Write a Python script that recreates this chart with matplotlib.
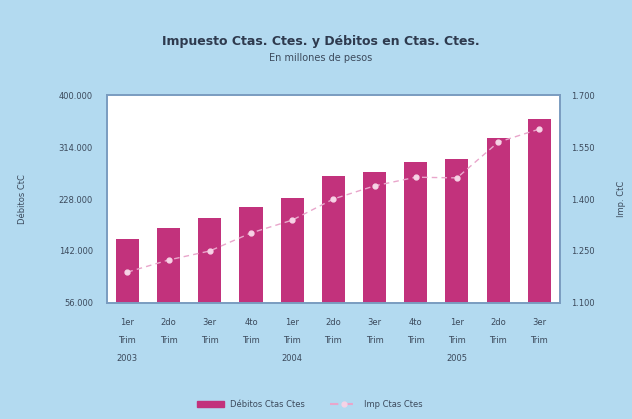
import numpy as np
import matplotlib.pyplot as plt
from matplotlib.lines import Line2D
from matplotlib.patches import Patch

# values (millones de pesos)
quarters = ["1er\nTrim\n2003", "2do\nTrim", "3er\nTrim", "4to\nTrim",
            "1er\nTrim\n2004", "2do\nTrim", "3er\nTrim", "4to\nTrim",
            "1er\nTrim\n2005", "2do\nTrim", "3er\nTrim"]
debitos = [162000, 180000, 197000, 215000, 230000, 266000,
           273000, 289000, 294000, 329000, 360000]
impuesto = [1189, 1224, 1250, 1302, 1339, 1400,
            1438, 1463, 1461, 1564, 1602]
left_ticks = [56000, 142000, 228000, 314000, 400000]
right_ticks = [1100, 1250, 1400, 1550, 1700]

BG = "#B3DAF0"
BAR = "#C2327C"
LINE = "#E9A6CB"
MARK = "#F6D3E6"
TXT = "#3C4A5C"

fig = plt.figure(figsize=(6.32, 4.19), dpi=100, facecolor=BG)
ax = fig.add_axes([0.169, 0.277, 0.717, 0.496])
ax.set_facecolor("white")

x = np.arange(len(quarters))
ax.bar(x, debitos, width=0.56, color=BAR, zorder=2)
ax.set_ylim(left_ticks[0], left_ticks[-1])
ax.set_xlim(-0.5, len(quarters) - 0.5)
ax.set_yticks(left_ticks)
ax.set_yticklabels([f"{v:,}".replace(",", ".") for v in left_ticks])
ax.set_xticks(x)
ax.set_xticklabels(quarters, linespacing=2.3)
ax.tick_params(axis="y", labelsize=6, colors=TXT, length=0, pad=10)
ax.tick_params(axis="x", labelsize=6, colors=TXT, length=0, pad=11)
ax.set_ylabel("Débitos CtC", fontsize=6, color=TXT, labelpad=23)
for s in ax.spines.values():
    s.set_color("#7A9CC0")
    s.set_linewidth(1.2)

ax2 = ax.twinx()
ax2.plot(x, impuesto, color=LINE, linestyle=(0, (4, 3)), linewidth=1,
         marker="o", markersize=3.5, markerfacecolor=MARK,
         markeredgecolor=MARK, zorder=3)
ax2.set_ylim(right_ticks[0], right_ticks[-1])
ax2.set_yticks(right_ticks)
ax2.set_yticklabels([f"{v:,}".replace(",", ".") for v in right_ticks])
ax2.tick_params(axis="y", labelsize=6, colors=TXT, length=0, pad=8)
ax2.set_ylabel("Imp. CtC", fontsize=6, color=TXT, labelpad=16)
for s in ax2.spines.values():
    s.set_color("#7A9CC0")
    s.set_linewidth(1.2)

fig.text(0.507, 0.9, "Impuesto Ctas. Ctes. y Débitos en Ctas. Ctes.",
         ha="center", va="center", fontsize=9, fontweight="bold", color="#2E3A4E")
fig.text(0.507, 0.862, "En millones de pesos", ha="center", va="center",
         fontsize=7, color=TXT)

handles = [Patch(facecolor=BAR, edgecolor=BAR),
           Line2D([0], [0], color=LINE, linestyle=(0, (4, 3)), marker="o",
                  markersize=3.5, markerfacecolor=MARK, markeredgecolor=MARK)]
fig.legend(handles, ["Débitos Ctas Ctes", "Imp Ctas Ctes"], loc="center",
           bbox_to_anchor=(0.49, 0.035), ncol=2, frameon=False, fontsize=6,
           handlelength=3.2, columnspacing=3, labelcolor=TXT)

fig.savefig("out.png", dpi=100, facecolor=BG)
